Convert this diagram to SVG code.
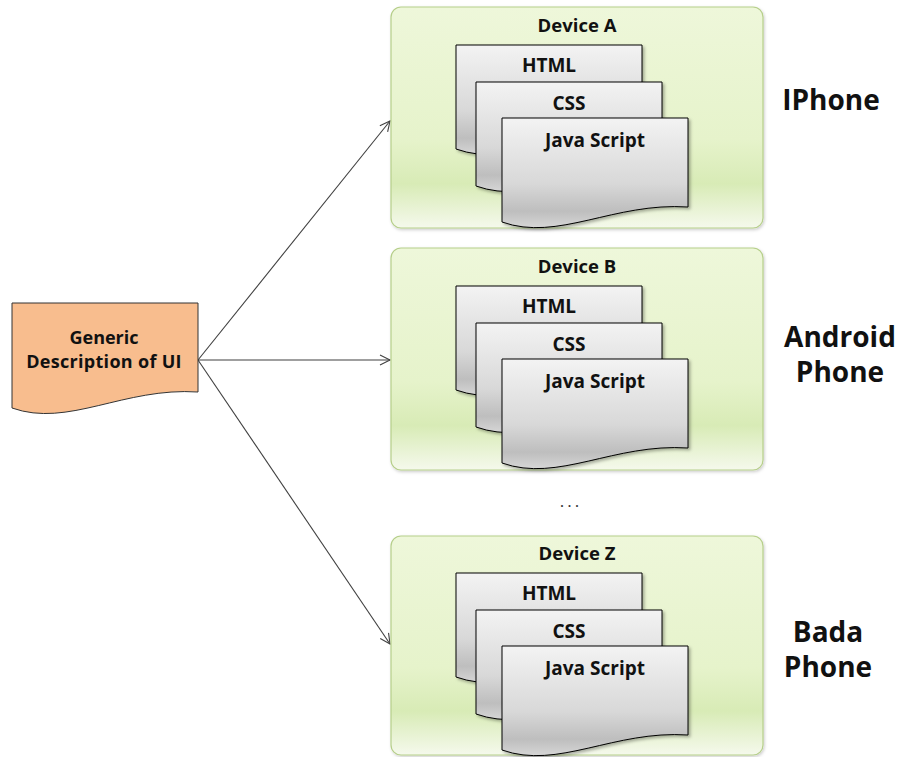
<svg xmlns="http://www.w3.org/2000/svg" width="899" height="757" viewBox="0 0 899 757">
<defs>
  <linearGradient id="gGreen" x1="0" y1="0" x2="0" y2="1">
    <stop offset="0" stop-color="#EEF7DA"/>
    <stop offset="0.6" stop-color="#E6F3CB"/>
    <stop offset="0.8" stop-color="#D8EBB6"/>
    <stop offset="1" stop-color="#F5F9EC"/>
  </linearGradient>
  <linearGradient id="gDoc" x1="0" y1="0" x2="0" y2="1">
    <stop offset="0" stop-color="#F3F3F3"/>
    <stop offset="0.6" stop-color="#D8D8D8"/>
    <stop offset="0.85" stop-color="#BEBEBE"/>
    <stop offset="1" stop-color="#D6D6D6"/>
  </linearGradient>
  <filter id="sh" x="-10%" y="-10%" width="130%" height="130%">
    <feDropShadow dx="2" dy="2" stdDeviation="1.5" flood-color="#000" flood-opacity="0.3"/>
  </filter>
  <filter id="shBox" x="-5%" y="-5%" width="110%" height="110%">
    <feDropShadow dx="1" dy="1.5" stdDeviation="1.5" flood-color="#000" flood-opacity="0.2"/>
  </filter>
  <path id="docShape" d="M0,0 H186 V89 C112,84 56,124 0,104 Z"/>
  <marker id="arr" markerWidth="14" markerHeight="14" refX="11" refY="6" orient="auto" markerUnits="userSpaceOnUse">
    <path d="M1,1 L11,6 L1,11" fill="none" stroke="#404040" stroke-width="1.1"/>
  </marker>
  <g id="devContent">
    <use href="#docShape" x="65" y="38" class="doc"/>
    <text x="158" y="65" class="dt">HTML</text>
    <use href="#docShape" x="85" y="75" class="doc"/>
    <text x="178" y="103" class="dt">CSS</text>
    <use href="#docShape" x="111" y="111" class="doc"/>
    <text x="204" y="140" class="dt">Java Script</text>
  </g>
</defs>
<style>
  .box { fill: url(#gGreen); stroke: #B6CF8A; stroke-width: 1.2; filter: url(#shBox); }
  .doc { fill: url(#gDoc); stroke: #000; stroke-width: 1; filter: url(#sh); }
  .dt { font-family: "Open Sans", "Liberation Sans", sans-serif; font-weight: bold; font-size: 19px; fill: #111; text-anchor: middle; }
  .title { font-family: "Open Sans", "Liberation Sans", sans-serif; font-weight: bold; font-size: 18.5px; fill: #111; text-anchor: middle; }
  .phone { font-family: "Open Sans", "Liberation Sans", sans-serif; font-weight: bold; font-size: 28px; fill: #111; text-anchor: middle; }
  .conn { stroke: #404040; stroke-width: 1.1; fill: none; marker-end: url(#arr); }
</style>
<rect width="899" height="757" fill="#FFFFFF"/>

<g id="connectors">
  <line class="conn" x1="198" y1="360" x2="390" y2="121"/>
  <line class="conn" x1="198" y1="360" x2="390" y2="360"/>
  <line class="conn" x1="198" y1="360" x2="390" y2="644"/>
</g>

<g id="generic">
  <path d="M12,303 H198 V392 C124,387 68,428 12,408 Z" fill="#F8BD8E" stroke="#333" stroke-width="1"/>
  <text x="104" y="344" class="title" style="font-size:18px">Generic</text>
  <text x="104" y="368" class="title" style="font-size:18px;letter-spacing:0.3px">Description of UI</text>
</g>

<g id="deviceA">
  <rect class="box" x="391" y="7" width="372" height="221" rx="10"/>
  <text x="577" y="32" class="title">Device A</text>
  <use href="#devContent" transform="translate(391,7)"/>
</g>

<g id="deviceB">
  <rect class="box" x="391" y="248" width="372" height="222" rx="10"/>
  <text x="577" y="273" class="title">Device B</text>
  <use href="#devContent" transform="translate(391,248)"/>
</g>

<g id="ellipsis">
  <text x="571" y="507" class="title" style="font-weight:normal;font-size:17px;fill:#333;letter-spacing:3px">...</text>
</g>

<g id="deviceZ">
  <rect class="box" x="391" y="536" width="372" height="219" rx="10"/>
  <text x="577" y="560" class="title">Device Z</text>
  <use href="#devContent" transform="translate(391,535)"/>
</g>

<g id="labelIPhone">
  <text x="831" y="110" class="phone">IPhone</text>
</g>
<g id="labelAndroid">
  <text x="840" y="347" class="phone">Android</text>
  <text x="840" y="382" class="phone">Phone</text>
</g>
<g id="labelBada">
  <text x="828" y="642" class="phone">Bada</text>
  <text x="828" y="677" class="phone">Phone</text>
</g>
</svg>
